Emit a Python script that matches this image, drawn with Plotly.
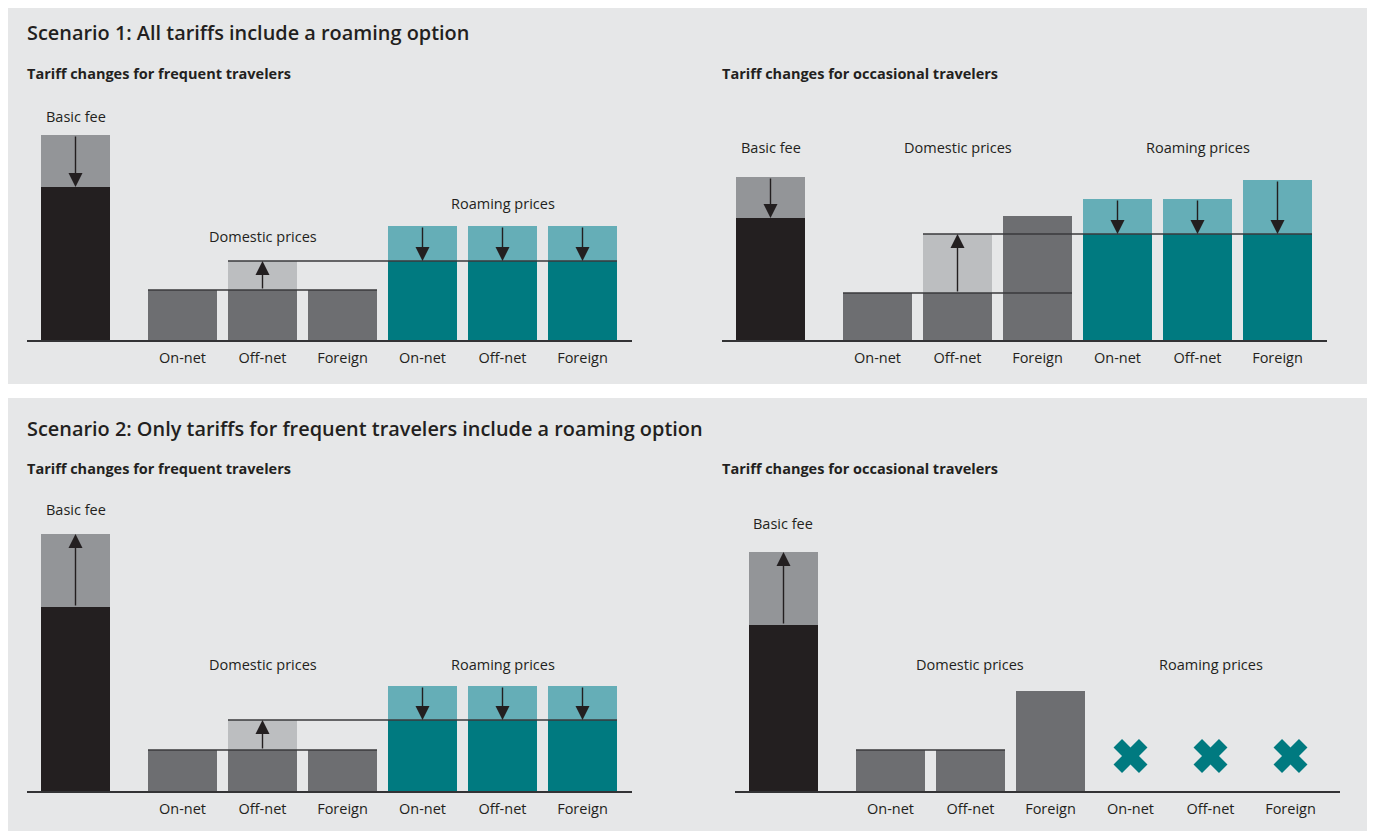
import plotly.graph_objects as go

# ---------------- data (arbitrary price-level units) ----------------
categories = ["On-net", "Off-net", "Foreign", "On-net", "Off-net", "Foreign"]
group_labels = ["Basic fee", "Domestic prices", "Roaming prices"]

# Scenario 1 – frequent travelers
s1f_basic = [41.0, 30.6]                      # before, after
s1f_before = [10.0, 10.0, 10.0, 22.8, 22.8, 22.8]
s1f_after = [10.0, 15.8, 10.0, 15.8, 15.8, 15.8]

# Scenario 1 – occasional travelers
s1o_basic = [32.6, 24.4]
s1o_before = [9.4, 9.4, 24.8, 28.2, 28.2, 32.0]
s1o_after = [9.4, 21.2, 24.8, 21.2, 21.2, 21.2]

# Scenario 2 – frequent travelers
s2f_basic = [36.8, 51.4]
s2f_before = [8.2, 8.2, 8.2, 21.0, 21.0, 21.0]
s2f_after = [8.2, 14.2, 8.2, 14.2, 14.2, 14.2]

# Scenario 2 – occasional travelers (no roaming option)
s2o_basic = [33.2, 47.8]
s2o_before = [8.2, 8.2, 20.0, None, None, None]
s2o_after = [8.2, 8.2, 20.0, None, None, None]

# ---------------- styling / layout constants ----------------
OFF = 8                        # page body margin in the browser
W, H = 1375 - OFF, 831 - OFF
PX = 5.0                       # pixels per value unit
XPOS = [1, 2, 3, 4, 5, 6]
BASIC_X = -0.3375
BAR_W = 0.8625
XMIN, XMAX = -0.94375, 6.61875


def fx(px):
    return (px - OFF) / W


def fy(py):
    return 1 - (py - OFF) / H


C_BG = "#e6e7e8"
C_BLACK = "#231f20"
C_BASIC_LIGHT = "#939598"
C_DOM = "#6d6e71"
C_DOM_LIGHT = "#bcbec0"
C_ROAM = "#007a80"
C_ROAM_LIGHT = "#65aeb7"
C_LINE = "#3a3a3c"
FONT = "'Open Sans', 'Noto Sans', sans-serif"
LBL = 14.5

panels = [
    dict(basic=s1f_basic, before=s1f_before, after=s1f_after,
         xpx=(27, 632), base=340, top=100,
         lines=[(0, 0, 2, "before"), (1, 1, 5, "after")],
         label_y=[44.8, 20.8, 27.4]),
    dict(basic=s1o_basic, before=s1o_before, after=s1o_after,
         xpx=(722, 1327), base=340, top=100,
         lines=[(0, 0, 2, "before"), (1, 1, 5, "after")],
         label_y=[38.6, 38.6, 38.6]),
    dict(basic=s2f_basic, before=s2f_before, after=s2f_after,
         xpx=(27, 632), base=791, top=490,
         lines=[(0, 0, 2, "before"), (1, 1, 5, "after")],
         label_y=[56.4, 25.4, 25.4]),
    dict(basic=s2o_basic, before=s2o_before, after=s2o_after,
         xpx=(735, 1340), base=791, top=490,
         lines=[(0, 0, 1, "before")],
         label_y=[53.6, 25.4, 25.4]),
]

fig = go.Figure()
annotations = []
layout_axes = {}

for k, p in enumerate(panels):
    n = "" if k == 0 else str(k + 1)
    xa, ya = "x" + n, "y" + n
    b0, b1 = p["basic"]
    before, after = p["before"], p["after"]

    xs = [BASIC_X] + XPOS
    hi = [max(b0, b1)]
    lo = [min(b0, b1)]
    light_cols = [C_BASIC_LIGHT]
    dark_cols = [C_BLACK]
    for i in range(6):
        if before[i] is None:
            hi.append(None)
            lo.append(None)
        else:
            hi.append(max(before[i], after[i]))
            lo.append(min(before[i], after[i]))
        light_cols.append(C_DOM_LIGHT if i < 3 else C_ROAM_LIGHT)
        dark_cols.append(C_DOM if i < 3 else C_ROAM)

    fig.add_trace(go.Bar(x=xs, y=hi, width=BAR_W, marker=dict(color=light_cols, line_width=0),
                         xaxis=xa, yaxis=ya, hoverinfo="skip"))
    fig.add_trace(go.Bar(x=xs, y=lo, width=BAR_W, marker=dict(color=dark_cols, line_width=0),
                         xaxis=xa, yaxis=ya, hoverinfo="skip"))

    # reference lines joining price levels
    for (src_i, i0, i1, which) in p["lines"]:
        v = before[src_i] if which == "before" else after[src_i]
        fig.add_trace(go.Scatter(x=[XPOS[i0] - BAR_W / 2, XPOS[i1] + BAR_W / 2], y=[v, v],
                                 mode="lines", line=dict(color=C_LINE, width=1.6),
                                 xaxis=xa, yaxis=ya, hoverinfo="skip"))

    # "not offered" markers
    miss = [XPOS[i] for i in range(6) if before[i] is None]
    if miss:
        fig.add_trace(go.Scatter(x=miss, y=[7.0] * len(miss), mode="markers",
                                 marker=dict(symbol="x", size=30, color=C_ROAM, line_width=0),
                                 xaxis=xa, yaxis=ya, hoverinfo="skip"))

    # change arrows
    arrow_pts = [(BASIC_X, b0, b1)] + [(XPOS[i], before[i], after[i]) for i in range(6)
                                       if before[i] is not None and before[i] != after[i]]
    for (x, v0, v1) in arrow_pts:
        annotations.append(dict(x=x, y=v1, ax=x, ay=v0, xref=xa, yref=ya, axref=xa, ayref=ya,
                                text="", showarrow=True, arrowhead=2, arrowsize=2.0,
                                arrowwidth=1.4, arrowcolor=C_BLACK, standoff=0, startstandoff=0))

    # group labels
    for lab, lx, ly in zip(group_labels, [BASIC_X, 2, 5], p["label_y"]):
        annotations.append(dict(x=lx, y=ly, xref=xa, yref=ya, text=lab, showarrow=False,
                                font=dict(family=FONT, size=LBL, color=C_BLACK)))

    layout_axes["xaxis" + n] = dict(
        domain=[fx(p["xpx"][0]), fx(p["xpx"][1])], range=[XMIN, XMAX],
        anchor=ya, showline=True, linecolor="#333335", linewidth=2,
        tickvals=XPOS, ticktext=categories, ticks="outside", ticklen=4,
        tickcolor="rgba(0,0,0,0)", showgrid=False, zeroline=False,
        tickfont=dict(family=FONT, size=LBL, color=C_BLACK), fixedrange=True)
    layout_axes["yaxis" + n] = dict(
        domain=[fy(p["base"]), fy(p["top"])],
        range=[0, (p["base"] - p["top"]) / PX], anchor=xa, visible=False, fixedrange=True)

titles = [
    ("Scenario 1: All tariffs include a roaming option", 25, 32),
    ("Scenario 2: Only tariffs for frequent travelers include a roaming option", 25, 428),
]
for t, x, y in titles:
    annotations.append(dict(x=fx(x), y=fy(y), xref="paper", yref="paper", text=t,
                            showarrow=False, xanchor="left", yanchor="middle",
                            font=dict(family=FONT, size=19.9, color=C_BLACK, weight=600)))
subtitles = [
    ("Tariff changes for frequent travelers", 25, 74),
    ("Tariff changes for occasional travelers", 720, 74),
    ("Tariff changes for frequent travelers", 25, 469),
    ("Tariff changes for occasional travelers", 720, 469),
]
for t, x, y in subtitles:
    annotations.append(dict(x=fx(x), y=fy(y), xref="paper", yref="paper", text=t,
                            showarrow=False, xanchor="left", yanchor="middle",
                            font=dict(family=FONT, size=14.5, color=C_BLACK, weight="bold")))

shapes = [
    dict(type="rect", xref="paper", yref="paper", x0=fx(8), x1=fx(1370), y0=fy(384),
         y1=1, fillcolor=C_BG, line_width=0, layer="below"),
    dict(type="rect", xref="paper", yref="paper", x0=fx(8), x1=fx(1370), y0=0,
         y1=fy(398), fillcolor=C_BG, line_width=0, layer="below"),
]

fig.update_layout(
    width=W, height=H, margin=dict(l=0, r=0, t=0, b=0),
    paper_bgcolor="white", plot_bgcolor="rgba(0,0,0,0)",
    barmode="overlay", bargap=0, showlegend=False,
    annotations=annotations, shapes=shapes,
    font=dict(family=FONT, color=C_BLACK),
    **layout_axes,
)

fig.write_html("out.html")
